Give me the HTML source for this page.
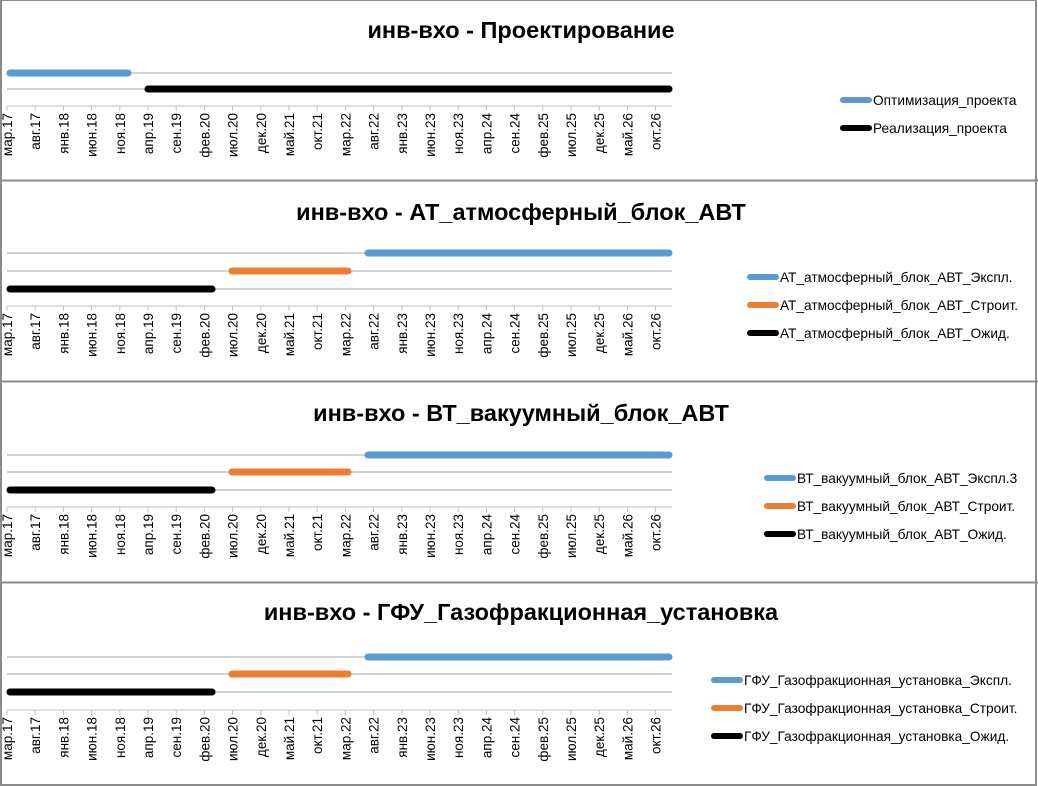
<!DOCTYPE html>
<html><head><meta charset="utf-8"><style>
html,body{margin:0;padding:0;background:#fff;}
svg{display:block;font-family:"Liberation Sans","DejaVu Sans",sans-serif;}
</style></head><body>
<svg id="s" width="1038" height="786" xmlns="http://www.w3.org/2000/svg">
<rect x="0" y="0" width="1038" height="786" fill="#fff"/>
</svg>
<script>
const s=document.getElementById('s');
const NS='http://www.w3.org/2000/svg';
function el(t,a,txt){const e=document.createElementNS(NS,t);for(const k in a)e.setAttribute(k,a[k]);if(txt!==undefined)e.textContent=txt;s.appendChild(e);return e;}
const labels=['мар.17','авг.17','янв.18','июн.18','ноя.18','апр.19','сен.19','фев.20','июл.20','дек.20','май.21','окт.21','мар.22','авг.22','янв.23','июн.23','ноя.23','апр.24','сен.24','фев.25','июл.25','дек.25','май.26','окт.26'];
const C={b:'#5b9bd5',o:'#ed7d31',k:'#000'};
const panels=[
 {title:'инв-вхо - Проектирование',ty:38,grid:[73,89],axis:106,
  bars:[[7,131,73,'b'],[145,672,89,'k']],
  leg:{x:840,items:[[100,'b','Оптимизация_проекта'],[128,'k','Реализация_проекта']]}},
 {title:'инв-вхо - АТ_атмосферный_блок_АВТ',ty:220,grid:[253,271,289],axis:306,
  bars:[[365,672,253,'b'],[229,351,271,'o'],[7,215,289,'k']],
  leg:{x:747,items:[[277,'b','АТ_атмосферный_блок_АВТ_Экспл.'],[305,'o','АТ_атмосферный_блок_АВТ_Строит.'],[333,'k','АТ_атмосферный_блок_АВТ_Ожид.']]}},
 {title:'инв-вхо - ВТ_вакуумный_блок_АВТ',ty:421,grid:[455,472,490],axis:507,
  bars:[[365,672,455,'b'],[229,351,472,'o'],[7,215,490,'k']],
  leg:{x:764,items:[[478,'b','ВТ_вакуумный_блок_АВТ_Экспл.3'],[506,'o','ВТ_вакуумный_блок_АВТ_Строит.'],[534,'k','ВТ_вакуумный_блок_АВТ_Ожид.']]}},
 {title:'инв-вхо - ГФУ_Газофракционная_установка',ty:620,grid:[657,674,692],axis:710,
  bars:[[365,672,657,'b'],[229,351,674,'o'],[7,215,692,'k']],
  leg:{x:711,items:[[680,'b','ГФУ_Газофракционная_установка_Экспл.'],[708,'o','ГФУ_Газофракционная_установка_Строит.'],[736,'k','ГФУ_Газофракционная_установка_Ожид.']]}}
];
panels.forEach(p=>{
 el('text',{x:521,y:p.ty,'text-anchor':'middle','font-size':'23.5','font-weight':'bold',fill:'#000'},p.title);
 p.grid.forEach(g=>el('line',{x1:7,x2:672,y1:g,y2:g,stroke:'#a6a6a6','stroke-width':1}));
 el('line',{x1:7,x2:672,y1:p.axis,y2:p.axis,stroke:'#bfbfbf','stroke-width':1});
 labels.forEach((l,i)=>{const x=7+i*28.2;
  el('line',{x1:x,x2:x,y1:p.axis,y2:p.axis+5,stroke:'#bfbfbf','stroke-width':1});
  el('text',{x:0,y:0,'text-anchor':'end','font-size':'13.5',fill:'#000',transform:`translate(${x+5},${p.axis+7}) rotate(-90)`},l);
 });
 p.bars.forEach(b=>el('line',{x1:b[0]+3,x2:b[1]-3,y1:b[2],y2:b[2],stroke:C[b[3]],'stroke-width':7,'stroke-linecap':'round'}));
 p.leg.items.forEach(it=>{
  el('line',{x1:p.leg.x+3,x2:p.leg.x+29,y1:it[0],y2:it[0],stroke:C[it[1]],'stroke-width':6,'stroke-linecap':'round'});
  el('text',{x:p.leg.x+33,y:it[0]+5,'font-size':'13.7',fill:'#000'},it[2]);
 });
});
[180.5,381.5,582.5].forEach(y=>el('line',{x1:0,x2:1038,y1:y,y2:y,stroke:'#8c8c8c','stroke-width':2}));
el('rect',{x:1,y:0,width:1035,height:785,fill:'none',stroke:'#8c8c8c','stroke-width':2});
</script>
</body></html>
